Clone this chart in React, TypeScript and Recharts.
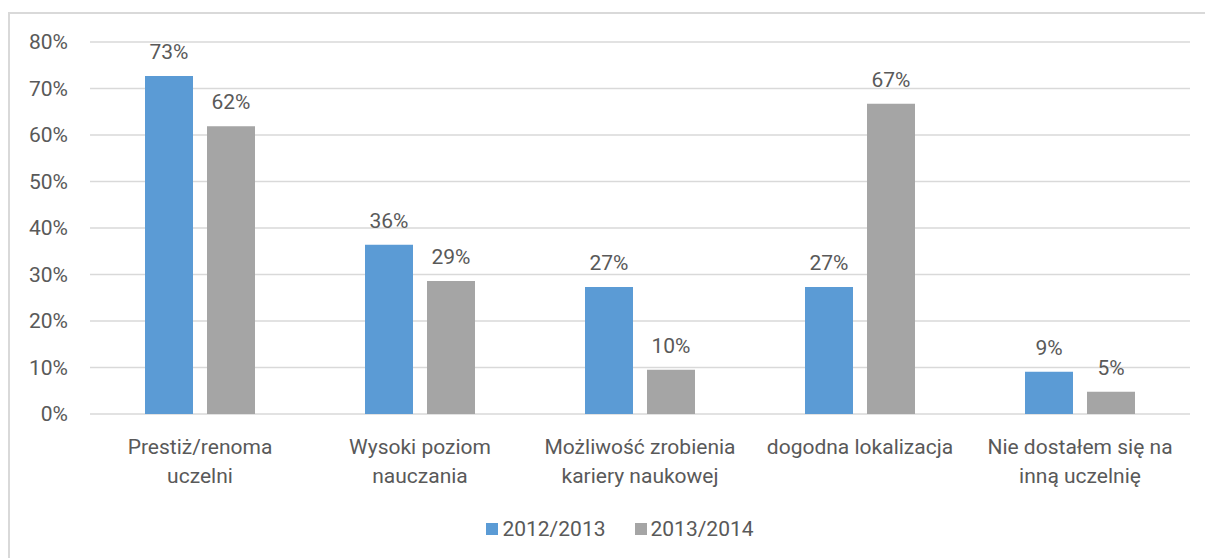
import { BarChart, Bar, XAxis, YAxis, CartesianGrid, Legend, LabelList } from "recharts";

const categories = [
  "Prestiż/renoma\nuczelni",
  "Wysoki poziom\nnauczania",
  "Możliwość zrobienia\nkariery naukowej",
  "dogodna lokalizacja",
  "Nie dostałem się na\ninną uczelnię",
];
const values2012 = [72.7, 36.4, 27.3, 27.3, 9.1];
const values2013 = [61.9, 28.6, 9.5, 66.7, 4.8];
const yTicks = [0, 10, 20, 30, 40, 50, 60, 70, 80];

const FONT = "Roboto, 'Noto Sans', sans-serif";
const TEXT = "#595959";
const GRID = "#d9d9d9";

const data = categories.map((name, i) => ({
  name,
  y2012: values2012[i],
  y2013: values2013[i],
}));

function CategoryTick(props: any) {
  const { x, y, payload } = props;
  const lines = String(payload.value).split("\n");
  return (
    <g>
      {lines.map((line, i) => (
        <text
          key={i}
          x={x}
          y={y + 40 + i * 29}
          textAnchor="middle"
          fill={TEXT}
          fontSize={21}
          fontFamily={FONT}
        >
          {line}
        </text>
      ))}
    </g>
  );
}

function ValueLabel(props: any) {
  const { x, y, width, value } = props;
  return (
    <text
      x={x + width / 2}
      y={y - 17}
      textAnchor="middle"
      fill={TEXT}
      fontSize={21}
      fontFamily={FONT}
    >
      {Math.round(value)}%
    </text>
  );
}

function LegendContent(props: any) {
  const items = props.payload || [];
  return (
    <div
      style={{
        display: "flex",
        justifyContent: "center",
        alignItems: "center",
        height: 30,
        paddingLeft: 50,
        fontFamily: FONT,
        fontSize: 21,
        color: TEXT,
      }}
    >
      {items.map((item: any, i: number) => (
        <div key={i} style={{ display: "flex", alignItems: "center", marginLeft: i ? 29 : 0 }}>
          <span style={{ width: 12, height: 12, background: item.color, marginRight: 4 }} />
          <span>{item.value}</span>
        </div>
      ))}
    </div>
  );
}

export default function App() {
  return (
    <div style={{ position: "absolute", left: 0, top: 0, width: 1205, height: 558, background: "#fff" }}>
      <div
        style={{
          position: "absolute",
          left: 8,
          top: 12,
          width: 1197,
          height: 546,
          borderTop: `2px solid ${GRID}`,
          borderLeft: `2px solid ${GRID}`,
          boxSizing: "border-box",
        }}
      />
      <div style={{ position: "absolute", left: 0, top: 0 }}>
        <BarChart
          width={1205}
          height={558}
          data={data}
          margin={{ top: 42, right: 15, left: 0, bottom: 14 }}
          barSize={48}
          barGap={14}
        >
          <CartesianGrid vertical={false} stroke={GRID} strokeWidth={1.5} />
          <XAxis
            dataKey="name"
            axisLine={false}
            tickLine={false}
            tickSize={0}
            tickMargin={0}
            height={100}
            interval={0}
            tick={<CategoryTick />}
          />
          <YAxis
            width={90}
            domain={[0, 80]}
            ticks={yTicks}
            axisLine={false}
            tickLine={false}
            tickSize={0}
            tickMargin={22}
            tickFormatter={(v) => `${v}%`}
            tick={{ fill: TEXT, fontSize: 21, fontFamily: FONT }}
          />
          <Legend verticalAlign="bottom" content={<LegendContent />} />
          <Bar dataKey="y2012" name="2012/2013" fill="#5B9BD5" isAnimationActive={false}>
            <LabelList dataKey="y2012" content={<ValueLabel />} />
          </Bar>
          <Bar dataKey="y2013" name="2013/2014" fill="#A5A5A5" isAnimationActive={false}>
            <LabelList dataKey="y2013" content={<ValueLabel />} />
          </Bar>
        </BarChart>
      </div>
    </div>
  );
}
